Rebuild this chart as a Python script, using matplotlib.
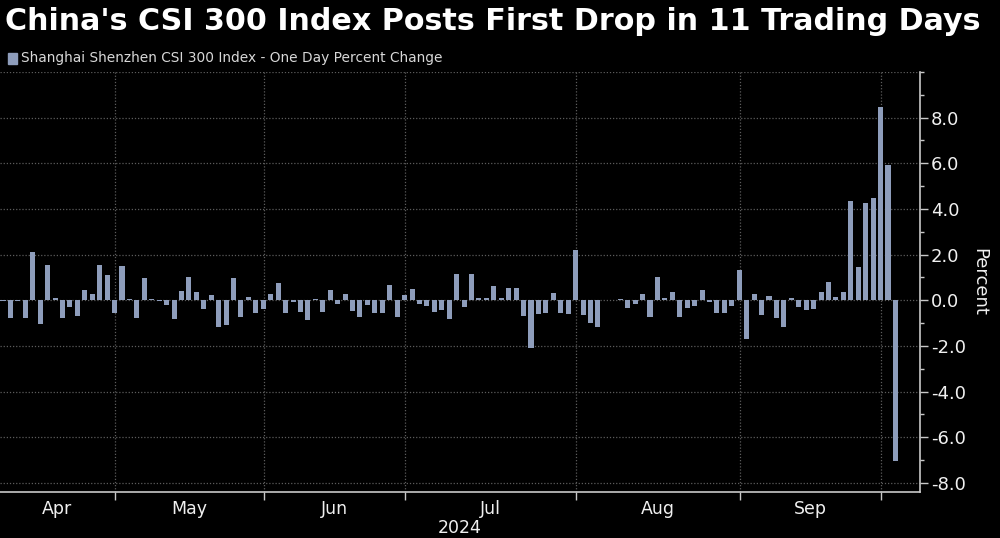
import matplotlib
matplotlib.use('Agg')
import matplotlib.pyplot as plt
from matplotlib.ticker import FixedLocator, MultipleLocator, NullFormatter
from matplotlib.patches import Rectangle
import numpy as np

# ---------------- data (one-day % change, CSI 300) ----------------
month_names = ['Apr', 'May', 'Jun', 'Jul', 'Aug', 'Sep', 'Oct']
apr_days = [9, 10, 11, 12, 15, 16, 17, 18, 19, 22, 23, 24, 25, 26, 29, 30]
apr_vals = [-0.05, -0.79, -0.02, -0.79, 2.13, -1.05, 1.55, 0.12, -0.79, -0.28,
            -0.69, 0.45, 0.26, 1.55, 1.11, -0.54]
may_days = [6, 7, 8, 9, 10, 13, 14, 15, 16, 17, 20, 21, 22, 23, 24, 27, 28, 29, 30, 31]
may_vals = [1.50, 0.06, -0.79, 0.96, 0.04, -0.02, -0.20, -0.83, 0.41, 1.04,
            0.38, -0.39, 0.23, -1.15, -1.08, 0.96, -0.72, 0.13, -0.54, -0.39]
jun_days = [3, 4, 5, 6, 7, 11, 12, 13, 14, 17, 18, 19, 20, 21, 24, 25, 26, 27, 28]
jun_vals = [0.26, 0.74, -0.57, -0.06, -0.50, -0.86, 0.04, -0.50, 0.45, -0.15,
            0.26, -0.45, -0.72, -0.20, -0.54, -0.54, 0.67, -0.74, 0.23]
jul_days = [1, 2, 3, 4, 5, 8, 9, 10, 11, 12, 15, 16, 17, 18, 19, 22, 23, 24, 25, 26,
            29, 30, 31]
jul_vals = [0.50, -0.18, -0.25, -0.50, -0.42, -0.83, 1.14, -0.31, 1.14, 0.12,
            0.12, 0.63, 0.12, 0.55, 0.53, -0.69, -2.10, -0.61, -0.54, 0.31,
            -0.54, -0.61, 2.18]
aug_days = [1, 2, 5, 6, 7, 8, 9, 12, 13, 14, 15, 16, 19, 20, 21, 22, 23, 26, 27, 28,
            29, 30]
aug_vals = [-0.64, -1.00, -1.18, -0.01, 0.00, 0.06, -0.32, -0.18, 0.26, -0.74,
            1.00, 0.12, 0.34, -0.72, -0.32, -0.25, 0.45, -0.09, -0.57, -0.57,
            -0.25, 1.33]
sep_days = [2, 3, 4, 5, 6, 9, 10, 11, 12, 13, 18, 19, 20, 23, 24, 25, 26, 27, 30]
sep_vals = [-1.71, 0.26, -0.64, 0.19, -0.79, -1.18, 0.09, -0.28, -0.44, -0.39,
            0.38, 0.82, 0.16, 0.38, 4.33, 1.47, 4.25, 4.49, 8.48]
oct_days = [8, 9]
oct_vals = [5.93, -7.05]

y_ticks = [-8.0, -6.0, -4.0, -2.0, 0.0, 2.0, 4.0, 6.0, 8.0]

title = "China's CSI 300 Index Posts First Drop in 11 Trading Days"
legend_label = "Shanghai Shenzhen CSI 300 Index - One Day Percent Change"
y_label = "Percent"
year_label = "2024"

# ---------------- build ----------------
month_vals = [apr_vals, may_vals, jun_vals, jul_vals, aug_vals, sep_vals, oct_vals]
values = np.concatenate([np.array(v, float) for v in month_vals])
x = np.arange(len(values))
counts = [len(v) for v in month_vals]
ends = np.cumsum(counts) - 1          # last trading-day index of each month
grid_x = [e + 0.05 for e in ends[:-1]]  # month boundaries

BG = '#000000'
BAR = '#8e9dbb'
GRID = '#5c5c5c'
AX = '#c8c8c8'
TXT = '#f0f0f0'
FONT = ['Liberation Sans Narrow', 'DejaVu Sans']

W, H = 1000, 538
fig = plt.figure(figsize=(W / 100, H / 100), dpi=100, facecolor=BG)
ax = fig.add_axes([0.0, 1 - 492 / H, 0.920, (492 - 72) / H], facecolor=BG)

ax.bar(x, values, width=0.68, color=BAR, zorder=3)

xlim = (-0.4, 123.3)
ax.set_xlim(*xlim)
ax.set_ylim(-8.4, 10.0)

# y axis on the right
ax.yaxis.tick_right()
ax.yaxis.set_label_position('right')
ax.yaxis.set_major_locator(FixedLocator(y_ticks))
ax.yaxis.set_minor_locator(MultipleLocator(1.0))
ax.set_yticklabels([f'{t:.1f}' for t in y_ticks])
ax.tick_params(axis='y', which='major', direction='out', length=6, width=1,
               color=AX, labelcolor=TXT, labelsize=13, pad=2)
ax.tick_params(axis='y', which='minor', direction='out', length=3, width=1, color=AX)
for lbl in ax.get_yticklabels():
    lbl.set_family(FONT)
ax.set_ylabel(y_label, color=TXT, fontsize=13, family=FONT, rotation=270,
              labelpad=16)

# x axis: month boundaries as major ticks, labels centred between them
ax.xaxis.set_major_locator(FixedLocator(grid_x))
ax.xaxis.set_major_formatter(NullFormatter())
bounds = [xlim[0]] + grid_x
mids = [(bounds[i] + bounds[i + 1]) / 2 for i in range(len(bounds) - 1)]
ax.xaxis.set_minor_locator(FixedLocator(mids))
ax.set_xticklabels(month_names[:len(mids)], minor=True)
ax.tick_params(axis='x', which='major', direction='out', length=6, width=1,
               color=AX)
ax.tick_params(axis='x', which='minor', length=0, labelcolor=TXT,
               labelsize=12.5, pad=6)
for lbl in ax.get_xticklabels(minor=True):
    lbl.set_family(FONT)

# grid
for yv in y_ticks + [10.0]:
    ax.axhline(yv, color=GRID, lw=0.9, ls=(0, (1, 1.5)), zorder=1)
for xv in grid_x:
    ax.axvline(xv, color=GRID, lw=0.9, ls=(0, (1, 1.5)), zorder=1)

for s in ['top', 'left']:
    ax.spines[s].set_visible(False)
for s in ['bottom', 'right']:
    ax.spines[s].set_color(AX)
    ax.spines[s].set_linewidth(1.2)

fig.text(460 / W, 1 - 528 / H, year_label, color=TXT, fontsize=12.5,
         family=FONT, ha='center', va='center')

# title, fitted to reference width
t = fig.text(5 / W, 1 - 22 / H, title, color='white', fontsize=22,
             fontweight='bold', family=FONT, ha='left', va='center')
fig.canvas.draw()
r = fig.canvas.get_renderer()
wpx = t.get_window_extent(r).width
t.set_fontsize(22 * 973 / wpx)

# legend
fig.patches.append(Rectangle((8 / W, 1 - 64 / H), 9 / W, 11 / H,
                             transform=fig.transFigure, color=BAR))
lt = fig.text(21 / W, 1 - 58 / H, legend_label, color='#d8d8d8', fontsize=11,
              family=FONT, ha='left', va='center')
fig.canvas.draw()
wl = lt.get_window_extent(r).width
lt.set_fontsize(11 * 421 / wl)

fig.savefig('out.png', dpi=100, facecolor=BG)
